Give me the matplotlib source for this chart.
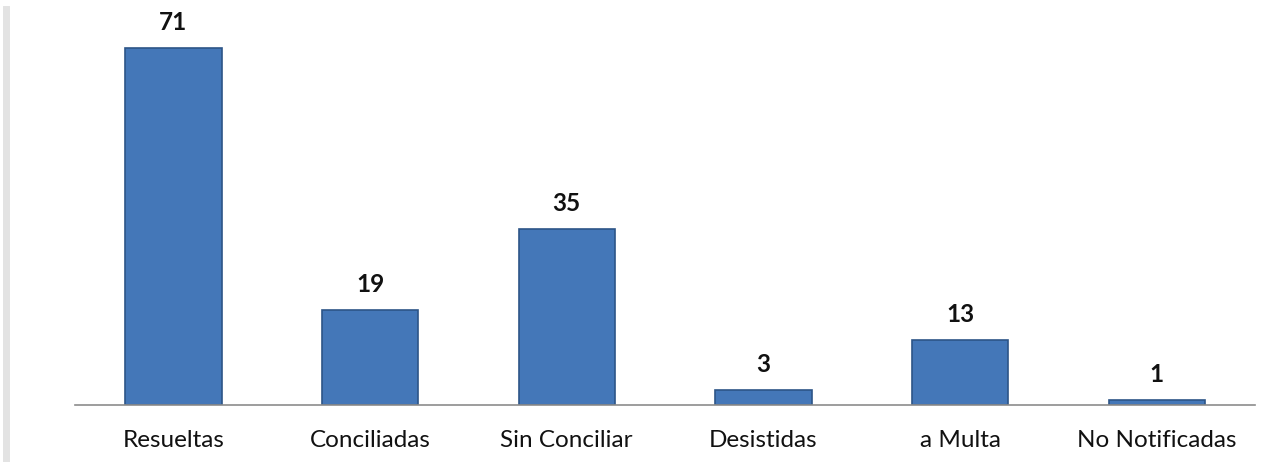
import matplotlib
matplotlib.use('Agg')
from matplotlib import pyplot as plt
from matplotlib.lines import Line2D

# 数据
categorias = ['Resueltas', 'Conciliadas', 'Sin Conciliar', 'Desistidas', 'a Multa', 'No Notificadas']
valores = [71, 19, 35, 3, 13, 1]

plt.rcParams['font.family'] = ['Lato', 'DejaVu Sans']

fig = plt.figure(figsize=(12.85, 4.62), dpi=100)
axe = fig.add_axes([0.0584, 0.1234, 0.9183, 0.870])

x = range(len(categorias))
axe.bar(x, valores, width=0.49, color='#4477b8', edgecolor='#2d5587', linewidth=1.2)
for i in range(len(categorias)):
    axe.annotate(str(valores[i]), (x[i], valores[i]), xytext=(0, 10), textcoords='offset points',
                 ha='center', va='bottom', fontsize=17.5, fontweight='bold', color='#111111')

axe.set_xlim(-0.5, 5.5)
axe.set_ylim(0, 80)
axe.set_xticks(list(x))
axe.set_xticklabels(categorias, fontsize=17.5, color='#111111')
axe.tick_params(axis='x', length=0, pad=18)
axe.set_yticks([])
for s in ['top', 'right', 'left']:
    axe.spines[s].set_visible(False)
axe.spines['bottom'].set_color('#8c8c8c')
axe.spines['bottom'].set_linewidth(1.2)

# 左边的灰线
fig.add_artist(Line2D([0.005, 0.005], [0.0, 0.98], transform=fig.transFigure, color='#e3e3e3', linewidth=5))

plt.savefig('out.png', dpi=100)
